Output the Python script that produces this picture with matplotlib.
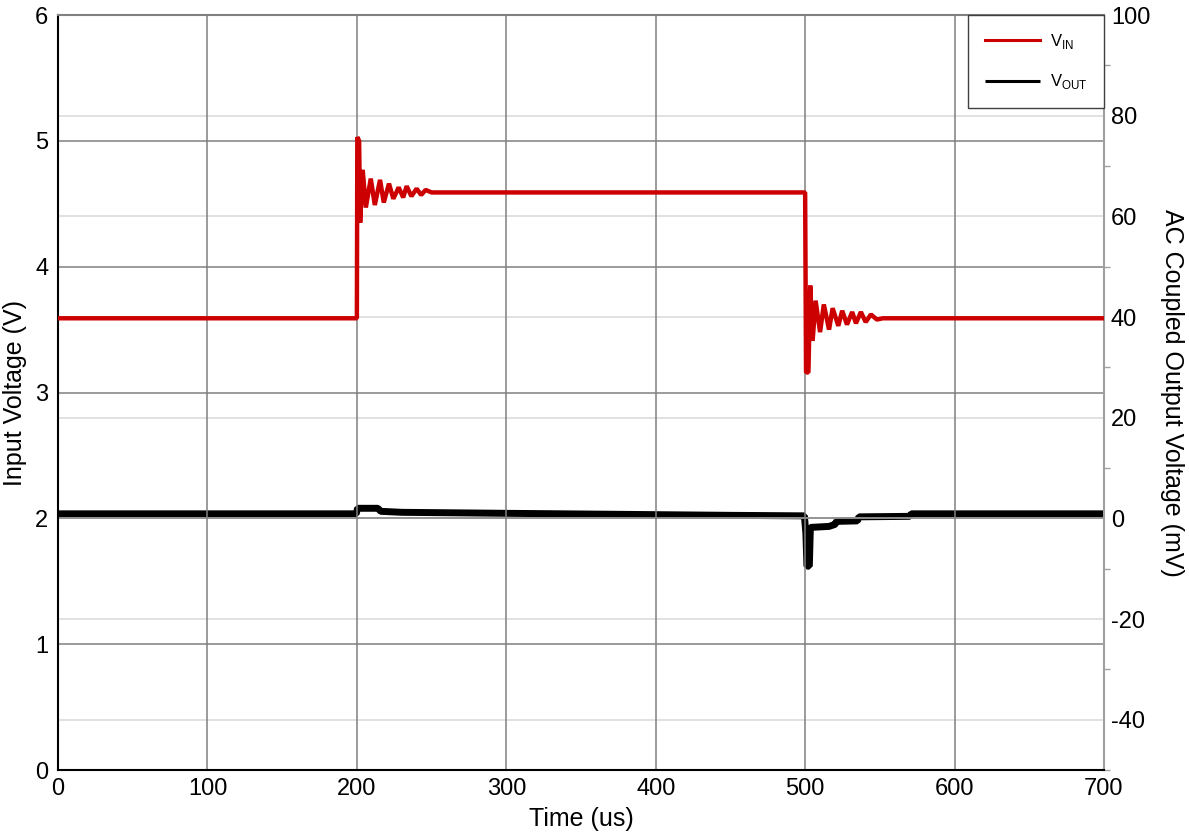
import matplotlib
matplotlib.use("Agg")
import matplotlib.pyplot as plt
from matplotlib.ticker import MultipleLocator

plt.rcParams['font.family'] = ['Liberation Sans', 'DejaVu Sans']
plt.rcParams['axes.unicode_minus'] = False

# Input voltage trace (V)
vin_t = [0, 199.8, 200.0, 200.3, 201.5, 202.2, 203.9, 206.0, 209.3, 212.0, 215.5,
         218.0, 221.5, 224.4, 228.0, 231.0, 233.3, 236.5, 240.0, 243.0, 246.0,
         250.0, 499.8, 500.0, 500.6, 502.2, 503.4, 505.0, 507.0, 510.0, 512.5,
         516.0, 518.4, 522.2, 524.8, 528.0, 531.5, 534.0, 537.3, 540.5, 544.0,
         548.0, 552.0, 700]
vin_v = [3.59, 3.59, 3.59, 5.03, 5.00, 4.35, 4.77, 4.47, 4.70, 4.49, 4.69,
         4.51, 4.66, 4.54, 4.63, 4.55, 4.64, 4.56, 4.62, 4.57, 4.61,
         4.59, 4.59, 4.59, 3.16, 3.16, 3.85, 3.41, 3.73, 3.48, 3.70,
         3.50, 3.67, 3.53, 3.65, 3.54, 3.64, 3.55, 3.64, 3.56, 3.62,
         3.58, 3.59, 3.59]

# AC coupled output voltage trace (mV)
vout_t = [0, 100, 199.5, 200.5, 214.0, 216.0, 230.0, 300, 376, 450, 499.5,
          500.5, 501.2, 502.8, 503.5, 516.0, 520.0, 521.0, 535.0, 536.0,
          570.0, 571.0, 700]
vout_v = [0.9, 0.9, 0.9, 2.0, 2.0, 1.4, 1.2, 1.0, 0.8, 0.6, 0.5,
          -3.0, -9.5, -9.5, -1.8, -1.6, -1.2, -0.6, -0.5, 0.3,
          0.4, 0.9, 0.9]

fig = plt.figure(figsize=(11.89, 8.34), dpi=100)
ax = fig.add_axes([0.0488, 0.0767, 0.8797, 0.9053])
ax2 = ax.twinx()
# right-hand axes goes underneath so the input trace stays on top
ax.set_zorder(ax2.get_zorder() + 1)
ax.patch.set_visible(False)

l_out, = ax2.plot(vout_t, vout_v, color='black', lw=5.0, solid_capstyle='butt',
                  solid_joinstyle='bevel', label=r'V$_{\mathregular{OUT}}$', zorder=2)
l_in, = ax.plot(vin_t, vin_v, color='#cc0000', lw=3.2, solid_joinstyle='bevel',
                label=r'V$_{\mathregular{IN}}$', zorder=3)

ax.set_xlim(0, 700)
ax.set_ylim(0, 6)
ax2.set_ylim(-50, 100)
ax.xaxis.set_major_locator(MultipleLocator(100))
ax.yaxis.set_major_locator(MultipleLocator(1))
ax2.yaxis.set_major_locator(MultipleLocator(20))
ax2.yaxis.set_minor_locator(MultipleLocator(10))

ax.grid(True, which='major', color='#808080', lw=1.1)
ax2.grid(True, which='major', axis='y', color='#d9d9d9', lw=1.1)
ax2.set_axisbelow(False)

ax.tick_params(axis='both', length=0, labelsize=17)
ax.tick_params(axis='y', pad=7)
ax.tick_params(axis='x', pad=6)
ax2.tick_params(axis='y', which='major', length=0, labelsize=17, pad=5)
ax2.tick_params(axis='y', which='minor', length=4, width=1, color='#a0a0a0')

for s in ax2.spines.values():
    s.set_visible(False)
ax.spines['left'].set_color('black')
ax.spines['bottom'].set_color('black')
ax.spines['top'].set_color('#808080')
ax.spines['right'].set_color('#a0a0a0')
for s in ax.spines.values():
    s.set_linewidth(1.5)

ax.set_xlabel('Time (us)', fontsize=18, labelpad=5)
ax.set_ylabel('Input Voltage (V)', fontsize=18, labelpad=6)
ax2.set_ylabel('AC Coupled Output Voltage (mV)', fontsize=18, rotation=270, labelpad=24)

leg = ax.legend(handles=[l_in, l_out], loc='upper right', fontsize=12,
                frameon=True, fancybox=False, borderaxespad=0, borderpad=1.0,
                labelspacing=1.3, handlelength=3.3, handletextpad=0.6)
leg.get_frame().set_edgecolor('#404040')
leg.get_frame().set_linewidth(1.0)
leg.get_frame().set_alpha(1)
for h in leg.legend_handles:
    h.set_linewidth(2.2)

fig.savefig('out.png', dpi=100)
